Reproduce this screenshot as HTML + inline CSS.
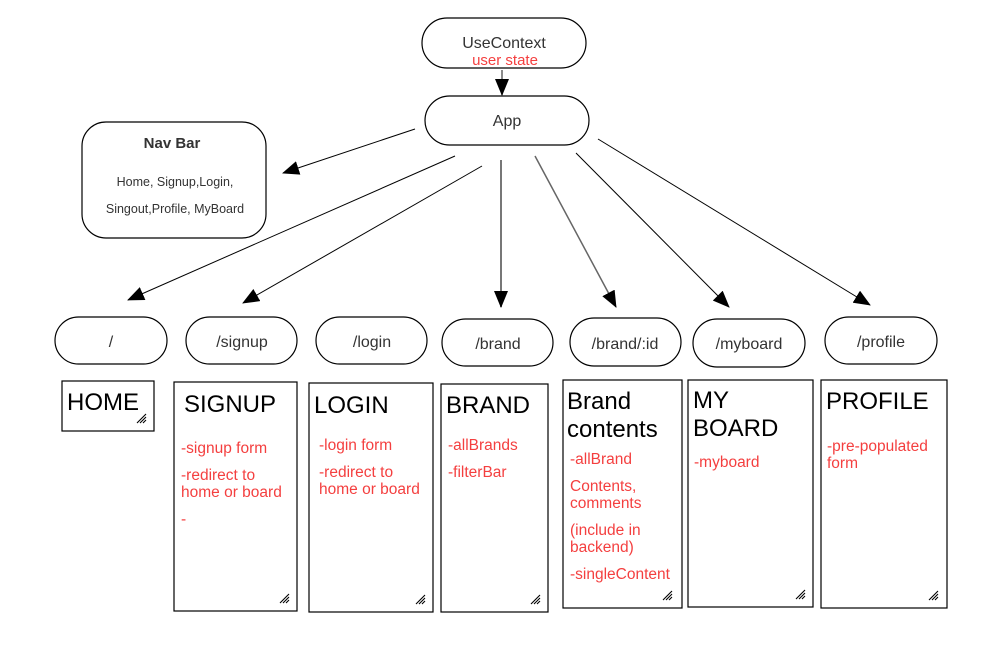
<!DOCTYPE html>
<html><head><meta charset="utf-8"><style>
html,body{margin:0;padding:0;background:#fff;}
svg{display:block;font-family:"Liberation Sans",sans-serif;}
.r{fill:#f43f3f;font-size:15.5px;}
.t{fill:#000;font-size:24px;}
.p{fill:#333;font-size:16px;text-anchor:middle;}
</style></head><body>
<svg width="986" height="653" viewBox="0 0 986 653" xmlns="http://www.w3.org/2000/svg">
<defs>
<marker id="a" markerUnits="userSpaceOnUse" markerWidth="18" markerHeight="14" refX="16" refY="7" orient="auto"><path d="M0,0 L17,7 L0,14 Z" fill="#000"/></marker>
<g id="rz"><path d="M0,9 L9,0 M3,9 L9,3 M6,9 L9,6" stroke="#000" stroke-width="1.1"/></g>
</defs>
<rect width="986" height="653" fill="#fff"/>
<g fill="none" stroke="#000" stroke-width="1.2">
<rect x="422" y="18" width="164" height="50" rx="25"/>
<rect x="425" y="96" width="164" height="49" rx="24.5"/>
<rect x="82" y="122" width="184" height="116" rx="24"/>
<rect x="55" y="317" width="112" height="47" rx="23.5"/>
<rect x="186" y="317" width="111" height="47" rx="23.5"/>
<rect x="316" y="317" width="111" height="47" rx="23.5"/>
<rect x="442" y="319" width="111" height="47" rx="23.5"/>
<rect x="570" y="318" width="111" height="48" rx="24"/>
<rect x="693" y="319" width="112" height="48" rx="24"/>
<rect x="825" y="317" width="112" height="47" rx="23.5"/>
<rect x="62" y="381" width="92" height="50"/>
<rect x="174" y="382" width="123" height="229"/>
<rect x="309" y="383" width="124" height="229"/>
<rect x="441" y="384" width="107" height="228"/>
<rect x="563" y="380" width="119" height="228"/>
<rect x="688" y="380" width="125" height="227"/>
<rect x="821" y="380" width="126" height="228"/>
</g>
<g stroke="#000" stroke-width="1" marker-end="url(#a)">
<line x1="502" y1="70" x2="502" y2="95" stroke="#666" stroke-width="1.5"/>
<line x1="415" y1="129" x2="283" y2="173"/>
<line x1="455" y1="156" x2="128" y2="300"/>
<line x1="482" y1="166" x2="243" y2="303"/>
<line x1="501" y1="160" x2="501" y2="307" stroke="#777" stroke-width="2"/>
<line x1="535" y1="156" x2="616" y2="307" stroke="#666" stroke-width="1.5"/>
<line x1="576" y1="153" x2="729" y2="307"/>
<line x1="598" y1="139" x2="870" y2="305"/>
</g>
<text x="504" y="48" class="p">UseContext</text>
<text x="505" y="65" class="p" style="fill:#f43f3f;font-size:15px">user state</text>
<text x="507" y="126" class="p">App</text>
<text x="172" y="148" class="p" style="font-weight:bold;font-size:15px">Nav Bar</text>
<text x="175" y="186" class="p" style="font-size:12.5px">Home, Signup,Login,</text>
<text x="175" y="213" class="p" style="font-size:12.5px">Singout,Profile, MyBoard</text>
<text x="111" y="347" class="p">/</text>
<text x="242" y="347" class="p">/signup</text>
<text x="372" y="347" class="p">/login</text>
<text x="498" y="349" class="p">/brand</text>
<text x="625" y="349" class="p">/brand/:id</text>
<text x="749" y="349" class="p">/myboard</text>
<text x="881" y="347" class="p">/profile</text>
<text x="67" y="410" class="t">HOME</text>
<text x="184" y="412" class="t">SIGNUP</text>
<text x="314" y="413" class="t">LOGIN</text>
<text x="446" y="413" class="t">BRAND</text>
<text x="567" y="409" class="t">Brand</text>
<text x="567" y="437" class="t">contents</text>
<text x="693" y="408" class="t">MY</text>
<text x="693" y="436" class="t">BOARD</text>
<text x="826" y="409" class="t">PROFILE</text>
<text class="r"><tspan x="181" y="453">-signup form</tspan><tspan x="181" y="480">-redirect to</tspan><tspan x="181" y="497">home or board</tspan><tspan x="181" y="524">-</tspan></text>
<text class="r"><tspan x="319" y="450">-login form</tspan><tspan x="319" y="477">-redirect to</tspan><tspan x="319" y="494">home or board</tspan></text>
<text class="r"><tspan x="448" y="450">-allBrands</tspan><tspan x="448" y="477">-filterBar</tspan></text>
<text class="r"><tspan x="570" y="464">-allBrand</tspan><tspan x="570" y="491">Contents,</tspan><tspan x="570" y="508">comments</tspan><tspan x="570" y="535">(include in</tspan><tspan x="570" y="552">backend)</tspan><tspan x="570" y="579">-singleContent</tspan></text>
<text class="r"><tspan x="694" y="467">-myboard</tspan></text>
<text class="r"><tspan x="827" y="451">-pre-populated</tspan><tspan x="827" y="468">form</tspan></text>
<use href="#rz" x="137" y="414"/>
<use href="#rz" x="280" y="594"/>
<use href="#rz" x="416" y="595"/>
<use href="#rz" x="531" y="595"/>
<use href="#rz" x="663" y="591"/>
<use href="#rz" x="796" y="590"/>
<use href="#rz" x="929" y="591"/>
</svg>
</body></html>
